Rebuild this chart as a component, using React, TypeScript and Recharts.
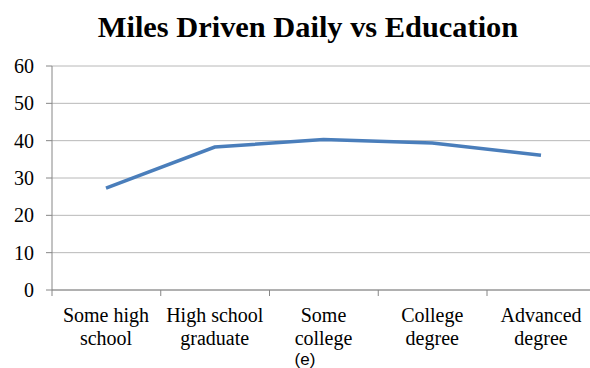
import { ComposedChart, Line, XAxis, YAxis, CartesianGrid } from "recharts"

const categories = [
  "Some high\nschool",
  "High school\ngraduate",
  "Some\ncollege",
  "College\ndegree",
  "Advanced\ndegree",
]
const milesDriven = [27.3, 38.3, 40.3, 39.4, 36.1]
const yTicks = [0, 10, 20, 30, 40, 50, 60]

const data = categories.map((name, i) => ({ name, miles: milesDriven[i] }))

const serif = "'Liberation Serif', 'Times New Roman', serif"
const axisColor = "#868686"
const halfBand = 54

function CategoryTick(props: any) {
  const { x, y, payload, index } = props
  const lines = String(payload.value).split("\n")
  const axisY = y - 6
  return (
    <g>
      <line x1={x - halfBand} y1={axisY} x2={x - halfBand} y2={axisY + 6} stroke={axisColor} />
      {index === categories.length - 1 && (
        <line x1={x + halfBand} y1={axisY} x2={x + halfBand} y2={axisY + 6} stroke={axisColor} />
      )}
      <text x={x} y={axisY + 32} textAnchor="middle" style={{ fontFamily: serif, fontSize: 20 }} fill="#000">
        {lines.map((l, i) => (
          <tspan key={i} x={x} dy={i === 0 ? 0 : 23}>
            {l}
          </tspan>
        ))}
      </text>
    </g>
  )
}

function ValueTick(props: any) {
  const { x, y, payload } = props
  return (
    <text x={x} y={y} dy={7} textAnchor="end" style={{ fontFamily: serif, fontSize: 20 }} fill="#000">
      {payload.value}
    </text>
  )
}

export default function App() {
  return (
    <div style={{ position: "absolute", left: 0, top: 0, width: 590, height: 368, overflow: "hidden", background: "#fff" }}>
      <div
        style={{
          position: "absolute",
          left: 308,
          top: 12,
          transform: "translateX(-50%)",
          whiteSpace: "nowrap",
          fontFamily: serif,
          fontWeight: "bold",
          fontSize: 30.4,
          lineHeight: "30px",
        }}
      >
        Miles Driven Daily vs Education
      </div>
      <ComposedChart
        width={600}
        height={368}
        data={data}
        margin={{ top: 66, right: 5, left: 0, bottom: 0 }}
      >
        <CartesianGrid horizontal vertical={false} stroke="#b8b8b8" />
        <XAxis
          dataKey="name"
          scale="point"
          padding={{ left: halfBand, right: halfBand }}
          height={78}
          stroke={axisColor}
          tickLine={{ stroke: "none" }}
          tickSize={6}
          tickMargin={0}
          interval={0}
          tick={<CategoryTick />}
        />
        <YAxis
          width={52}
          domain={[0, 60]}
          ticks={yTicks}
          stroke={axisColor}
          tickSize={6}
          tickMargin={12}
          tick={<ValueTick />}
        />
        <Line
          type="linear"
          dataKey="miles"
          stroke="#4a7ebb"
          strokeWidth={3.5}
          dot={false}
          isAnimationActive={false}
        />
      </ComposedChart>
      <div
        style={{
          position: "absolute",
          left: 305,
          top: 351,
          transform: "translateX(-50%)",
          fontFamily: "'Liberation Sans', Arial, sans-serif",
          fontSize: 17,
          lineHeight: "17px",
        }}
      >
        (e)
      </div>
    </div>
  )
}
